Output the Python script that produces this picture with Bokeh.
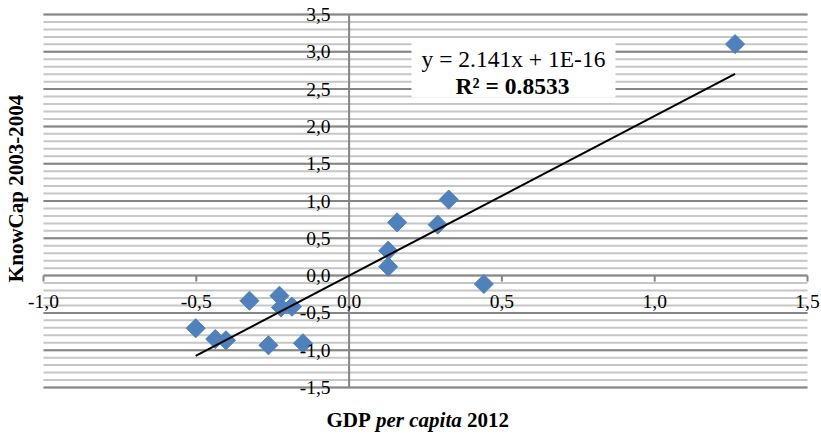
import numpy as np
from bokeh.plotting import figure
from bokeh.models import Label, LabelSet, ColumnDataSource, BoxAnnotation
from bokeh.embed import file_html
from bokeh.resources import INLINE

# ---- data ----
gdp = [-0.502, -0.438, -0.403, -0.326, -0.228, -0.223, -0.187, -0.264, -0.151,
       0.128, 0.128, 0.157, 0.290, 0.326, 0.441, 1.263]
knowcap = [-0.706, -0.851, -0.867, -0.337, -0.270, -0.427, -0.417, -0.934, -0.907,
           0.334, 0.119, 0.714, 0.683, 1.019, -0.113, 3.103]

slope = 2.141
intercept = 1e-16
eq_text = "y = 2.141x + 1E-16"
r2_text = "R\u00b2 = 0.8533"

x_ticks = [-1.0, -0.5, 0.0, 0.5, 1.0, 1.5]
x_tick_labels = ["-1,0", "-0,5", "0,0", "0,5", "1,0", "1,5"]
y_ticks = [-1.5, -1.0, -0.5, 0.0, 0.5, 1.0, 1.5, 2.0, 2.5, 3.0, 3.5]
y_tick_labels = ["-1,5", "-1,0", "-0,5", "0,0", "0,5", "1,0", "1,5", "2,0", "2,5", "3,0", "3,5"]
y_minor_step = 0.1
x_title_parts = ["GDP", "per capita", "2012"]
y_title = "KnowCap 2003-2004"

# ---- layout (whole canvas is the frame; the plot area is drawn inside it) ----
W, H = 821, 436
X0, X1 = -1.0, 1.5
Y0, Y1 = -1.5, 3.5
PA_L, PA_R, PA_T, PA_B = 43, 807, 14, 387     # plot-area edges in canvas pixels
PXU_X = (PA_R - PA_L) / (X1 - X0)
PXU_Y = (PA_B - PA_T) / (Y1 - Y0)
FONT = "Liberation Serif"


def dx(px):
    return X0 + (px - PA_L) / PXU_X


def dy(py):
    return Y1 - (py - PA_T) / PXU_Y


p = figure(width=W, height=H,
           x_range=(dx(0), dx(W)), y_range=(dy(H), dy(0)),
           output_backend="svg", toolbar_location=None, min_border=0)
p.xaxis.visible = False
p.yaxis.visible = False
p.grid.visible = False
p.outline_line_color = None
p.background_fill_color = "white"
p.border_fill_color = "white"

# gridlines (minor 0.1, major 0.5) across the plot area
n_minor = int(round((Y1 - Y0) / y_minor_step))
y_minor = [round(Y0 + i * y_minor_step, 2) for i in range(n_minor + 1)]
p.segment(x0=[X0] * len(y_minor), y0=y_minor, x1=[X1] * len(y_minor), y1=y_minor,
          line_color="#c6c6c6", line_width=2)
p.segment(x0=[X0] * len(y_ticks), y0=y_ticks, x1=[X1] * len(y_ticks), y1=y_ticks,
          line_color="#868686", line_width=2)

# vertical axis line at x = 0
p.segment(x0=[0], y0=[Y0], x1=[0], y1=[Y1], line_color="#868686", line_width=2)

# x tick marks (pointing down from y = 0)
tick_len = 6 / PXU_Y
p.segment(x0=x_ticks, y0=[0] * len(x_ticks), x1=x_ticks, y1=[-tick_len] * len(x_ticks),
          line_color="#868686", line_width=2)

# points
p.scatter(gdp, knowcap, marker="square", angle=np.pi / 4, size=13.5,
          fill_color="#4F81BD", line_color="#4F81BD")

# trendline
tx = np.array([min(gdp), max(gdp)])
p.line(tx, slope * tx + intercept, line_color="black", line_width=2)

# tick labels
ysrc = ColumnDataSource(dict(x=[0] * len(y_ticks), y=y_ticks, t=y_tick_labels))
p.add_layout(LabelSet(x="x", y="y", text="t", source=ysrc, x_offset=-18.5,
                      text_align="right", text_baseline="middle",
                      text_font=FONT, text_font_size="19.5px", text_color="black"))
xsrc = ColumnDataSource(dict(x=x_ticks, y=[0] * len(x_ticks), t=x_tick_labels))
p.add_layout(LabelSet(x="x", y="y", text="t", source=xsrc, y_offset=-26,
                      text_align="center", text_baseline="middle",
                      text_font=FONT, text_font_size="19.5px", text_color="black"))

# equation box
p.add_layout(BoxAnnotation(left=dx(411), right=dx(615), top=dy(42), bottom=dy(97),
                           fill_color="white", fill_alpha=1.0, line_color=None))
p.add_layout(Label(x=dx(513), y=dy(58), text=eq_text, text_align="center", text_baseline="middle",
                   text_font=FONT, text_font_size="23.5px", text_color="black"))
p.add_layout(Label(x=dx(512), y=dy(85), text=r2_text, text_align="center", text_baseline="middle",
                   text_font=FONT, text_font_size="23.5px", text_font_style="bold", text_color="black"))

# axis titles
mid = dy(419)
p.add_layout(Label(x=dx(370.3), y=mid, text=x_title_parts[0], text_align="right",
                   text_baseline="middle", text_font=FONT, text_font_size="21px",
                   text_font_style="bold", text_color="black"))
p.add_layout(Label(x=dx(418.4), y=mid, text=x_title_parts[1], text_align="center",
                   text_baseline="middle", text_font=FONT, text_font_size="21px",
                   text_font_style="bold italic", text_color="black"))
p.add_layout(Label(x=dx(466.6), y=mid, text=x_title_parts[2], text_align="left",
                   text_baseline="middle", text_font=FONT, text_font_size="21px",
                   text_font_style="bold", text_color="black"))
p.add_layout(Label(x=dx(15.3), y=dy(188), text=y_title, angle=np.pi / 2,
                   text_align="center", text_baseline="middle", text_font=FONT,
                   text_font_size="21px", text_font_style="bold", text_color="black"))

open("out.html", "w").write(file_html(p, INLINE))
